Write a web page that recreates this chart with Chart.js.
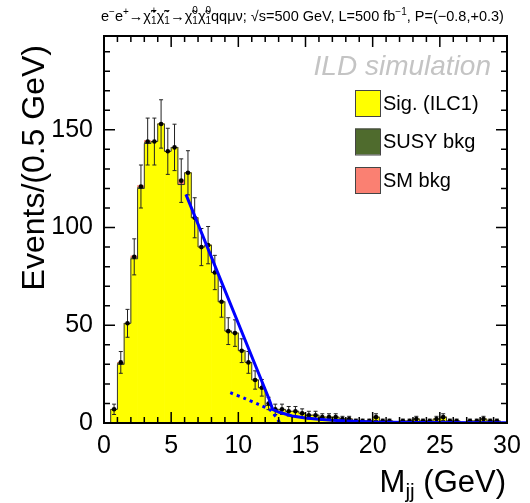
<!DOCTYPE html>
<html>
<head>
<meta charset="utf-8">
<script src="https://cdn.jsdelivr.net/npm/chart.js@4.4.0/dist/chart.umd.min.js"></script>
<style>
    html, body { margin: 0; padding: 0; background: #fff; }
    #wrap { width: 530px; height: 503px; }
</style>
</head>
<body>
<div id="wrap"><canvas id="chart"></canvas></div>
<script>
// Bin centres of M_jj (GeV), 0.5 GeV bins
const binCenters = [
    0.25, 0.75, 1.25, 1.75, 2.25, 2.75, 3.25, 3.75, 4.25, 4.75,
    5.25, 5.75, 6.25, 6.75, 7.25, 7.75, 8.25, 8.75, 9.25, 9.75,
    10.25, 10.75, 11.25, 11.75, 12.25, 12.75, 13.25, 13.75, 14.25, 14.75,
    15.25, 15.75, 16.25, 16.75, 17.25, 17.75, 18.25, 18.75, 19.25, 19.75,
    20.25, 20.75, 21.25, 21.75, 22.25, 22.75, 23.25, 23.75, 24.25, 24.75,
    25.25, 25.75, 26.25, 26.75, 27.25, 27.75, 28.25, 28.75, 29.25, 29.75
];

// Stacked MC components (events per bin)
const sigCounts = [
    0, 7, 30, 51, 84, 120, 143, 144, 153, 139,
    141, 122, 128, 105, 90, 91, 77, 62, 47, 46,
    37, 31, 22, 18, 9, 7, 7, 6, 6, 5,
    4, 4, 3, 3, 3, 2, 2, 1, 1, 1,
    3, 1, 1, 0, 1, 1, 2, 1, 1, 2,
    3, 1, 1, 0, 1, 1, 2, 1, 1, 0
];
const susyBkg = [
    0, 0, 0.5, 0, 0.5, 0.5, 0.5, 0, 0, 0,
    0, 0, 0, 0, 0, 0, 0, 0, 0, 0,
    0, 0, 0, 0, 0, 0, 0, 0, 0, 0,
    0, 0, 0, 0, 0, 0, 0, 0, 0, 0,
    0, 0, 0, 0, 0, 0, 0, 0, 0, 0,
    0, 0, 0, 0, 0, 0, 0, 0, 0, 0
];
const smBkg = [
    0, 0, 0.5, 0, 1, 1, 1, 0, 0, 0,
    0, 2.5, 0, 0, 0, 0, 0, 0, 0, 0,
    0, 0, 0, 0, 0, 0, 0, 0, 0, 0,
    0, 0, 0, 0, 0, 0, 0, 0, 0, 0,
    0, 0, 0, 0, 0, 0, 0, 0, 0, 0,
    0, 0, 0, 0, 0, 0, 0, 0, 0, 0
];

// Pseudo-data points
const dataCounts = [
    0, 7, 31, 51, 85, 121, 144, 144, 153, 139,
    141, 124, 128, 105, 90, 91, 77, 62, 47, 46,
    37, 31, 22, 18, 10, 7, 7, 6, 6, 5,
    4, 4, 3, 3, 3, 2, 2, 1, 1, 1,
    3, 1, 1, 0, 1, 1, 2, 1, 1, 2,
    3, 1, 1, 0, 1, 1, 2, 1, 1, 0
];

// Edge fit (solid) and background component (dotted)
const fitX = [6.1, 12.3, 12.55, 13, 14, 15, 16, 17, 18, 20, 23, 30];
const fitY = [117, 12, 7, 5.6, 3.6, 2.6, 1.9, 1.4, 1.0, 0.5, 0.25, 0.1];
const bkgFitX = [9.4, 10.5, 11.5, 12.4, 12.8, 13.1];
const bkgFitY = [15.5, 12.5, 9.5, 6.5, 3, 0];

const xTicks = [0, 5, 10, 15, 20, 25, 30];
const yTicks = [0, 50, 100, 150];

const legendItems = [
    { label: 'Sig. (ILC1)', color: '#ffff00' },
    { label: 'SUSY bkg', color: '#4f6b2d' },
    { label: 'SM bkg', color: '#fa8072' }
];

const FONT = '"Liberation Sans", Arial, Helvetica, sans-serif';

/**
 * Histogram outline and data points with errors, drawn before the fit lines
 */
const histPlugin = {
    id: 'histOverlay',
    beforeDatasetDraw(chart, args) {
        if (chart.data.datasets[args.index].label !== 'bkgfit') return;
        const ctx = chart.ctx;
        const xs = chart.scales.x, ys = chart.scales.y;
        const sigMeta = chart.getDatasetMeta(2);
        ctx.save();

        // step outline along top of the stack
        ctx.strokeStyle = '#333';
        ctx.lineWidth = 1;
        ctx.beginPath();
        ctx.moveTo(xs.getPixelForValue(0), ys.getPixelForValue(0));
        sigMeta.data.forEach((bar, i) => {
            const l = xs.getPixelForValue(binCenters[i] - 0.25);
            const r = xs.getPixelForValue(binCenters[i] + 0.25);
            ctx.lineTo(l, bar.y);
            ctx.lineTo(r, bar.y);
        });
        ctx.lineTo(xs.getPixelForValue(30), ys.getPixelForValue(0));
        ctx.stroke();

        // error bars and markers
        dataCounts.forEach((n, i) => {
            if (n <= 0) return;
            const err = Math.sqrt(n);
            const x = xs.getPixelForValue(binCenters[i]);
            const y = ys.getPixelForValue(n);
            const y1 = ys.getPixelForValue(Math.max(0, n - err));
            const y2 = ys.getPixelForValue(n + err);
            ctx.strokeStyle = '#222';
            ctx.lineWidth = 1;
            ctx.beginPath();
            ctx.moveTo(x, y1); ctx.lineTo(x, y2);
            ctx.moveTo(x - 2, y1); ctx.lineTo(x + 2, y1);
            ctx.moveTo(x - 2, y2); ctx.lineTo(x + 2, y2);
            ctx.stroke();
            ctx.fillStyle = '#000';
            ctx.beginPath();
            ctx.arc(x, y, 2.3, 0, Math.PI * 2);
            ctx.fill();
        });
        ctx.restore();
    }
};

/**
 * ROOT-style frame, inner ticks, titles, legend and labels
 */
const framePlugin = {
    id: 'rootFrame',
    afterDraw(chart) {
        const ctx = chart.ctx;
        const a = chart.chartArea;
        const xs = chart.scales.x, ys = chart.scales.y;
        ctx.save();

        // ticks
        ctx.strokeStyle = '#000';
        ctx.lineWidth = 1.5;
        ctx.beginPath();
        for (let v = 0; v <= 30; v += 1) {
            const x = xs.getPixelForValue(v);
            const len = v % 5 === 0 ? 11 : 6;
            ctx.moveTo(x, a.bottom); ctx.lineTo(x, a.bottom - len);
            ctx.moveTo(x, a.top); ctx.lineTo(x, a.top + len);
        }
        for (let v = 0; v <= 190; v += 10) {
            const y = ys.getPixelForValue(v);
            const len = v % 50 === 0 ? 11 : 6;
            ctx.moveTo(a.left, y); ctx.lineTo(a.left + len, y);
            ctx.moveTo(a.right, y); ctx.lineTo(a.right - len, y);
        }
        ctx.stroke();

        // frame
        ctx.lineWidth = 2;
        ctx.strokeRect(a.left, a.top, a.right - a.left, a.bottom - a.top);

        // ILD simulation
        ctx.fillStyle = '#c4c4c4';
        ctx.font = 'italic 28px ' + FONT;
        ctx.textAlign = 'right';
        ctx.textBaseline = 'alphabetic';
        ctx.fillText('ILD simulation', 491, 75);

        // legend
        ctx.font = '20px ' + FONT;
        ctx.textAlign = 'left';
        ctx.textBaseline = 'middle';
        legendItems.forEach((item, i) => {
            const top = 90 + i * 38.5;
            ctx.fillStyle = item.color;
            ctx.fillRect(355, top, 25, 26);
            ctx.strokeStyle = '#444';
            ctx.lineWidth = 1;
            ctx.strokeRect(355.5, top + 0.5, 25, 26);
            ctx.fillStyle = '#000';
            ctx.fillText(item.label, 383, top + 14);
        });

        // y-axis title
        ctx.save();
        ctx.translate(44, 45);
        ctx.rotate(-Math.PI / 2);
        ctx.font = '32px ' + FONT;
        ctx.textAlign = 'right';
        ctx.textBaseline = 'alphabetic';
        ctx.fillText('Events/(0.5 GeV)', 0, 0);
        ctx.restore();

        // x-axis title with subscript
        ctx.textBaseline = 'alphabetic';
        ctx.textAlign = 'left';
        const rest = ' (GeV)';
        ctx.font = '31px ' + FONT;
        const wRest = ctx.measureText(rest).width;
        const wM = ctx.measureText('M').width;
        ctx.font = '21px ' + FONT;
        const wSub = ctx.measureText('jj').width;
        let x0 = 506 - wRest - wSub - wM;
        ctx.font = '31px ' + FONT;
        ctx.fillText('M', x0, 492);
        ctx.font = '21px ' + FONT;
        ctx.fillText('jj', x0 + wM, 498);
        ctx.font = '31px ' + FONT;
        ctx.fillText(rest, x0 + wM + wSub, 492);

        // top process label
        const segs = [
            ['e'], ['\u2212', 'sup'], ['e'], ['+', 'sup'], ['\u2192'],
            ['\u03C7\u0303'], ['1', '+', 'ss'], ['\u03C7\u0303'], ['1', '\u2212', 'ss'], ['\u2192'],
            ['\u03C7\u0303'], ['1', '0', 'ss'], ['\u03C7\u0303'], ['1', '0', 'ss'],
            ['qq\u03BC\u03BD; \u221As=500 GeV, L=500 fb'], ['\u22121', 'sup'],
            [', P=(\u22120.8,+0.3)']
        ];
        const big = '14.5px ' + FONT, small = '10px ' + FONT;
        let cx = 101;
        const base = 21;
        ctx.fillStyle = '#000';
        segs.forEach(s => {
            if (s.length === 1) {
                ctx.font = big;
                ctx.fillText(s[0], cx, base);
                cx += ctx.measureText(s[0]).width;
            } else if (s[1] === 'sup') {
                ctx.font = small;
                ctx.fillText(s[0], cx, base - 6);
                cx += ctx.measureText(s[0]).width;
            } else {
                ctx.font = small;
                ctx.fillText(s[0], cx, base + 3);
                ctx.fillText(s[1], cx, base - 7);
                cx += Math.max(ctx.measureText(s[0]).width, ctx.measureText(s[1]).width);
            }
        });
        ctx.restore();
    }
};

const ctxEl = document.getElementById('chart');
new Chart(ctxEl, {
    type: 'bar',
    data: {
        datasets: [
            {
                type: 'line', label: 'fit', order: 0, stack: 'fit',
                data: fitX.map((x, i) => ({ x: x, y: fitY[i] })),
                borderColor: '#0000ff', borderWidth: 3, pointRadius: 0,
                tension: 0, fill: false
            },
            {
                type: 'line', label: 'bkgfit', order: 1, stack: 'bkgfit',
                data: bkgFitX.map((x, i) => ({ x: x, y: bkgFitY[i] })),
                borderColor: '#0000ff', borderWidth: 3, borderDash: [3, 4], pointRadius: 0,
                tension: 0.3, fill: false
            },
            {
                label: 'Sig. (ILC1)', order: 2, stack: 'mc',
                data: binCenters.map((x, i) => ({ x: x, y: sigCounts[i] })),
                backgroundColor: '#ffff00', borderWidth: 0,
                barPercentage: 1, categoryPercentage: 1
            },
            {
                label: 'SUSY bkg', order: 3, stack: 'mc',
                data: binCenters.map((x, i) => ({ x: x, y: susyBkg[i] })),
                backgroundColor: '#4f6b2d', borderWidth: 0,
                barPercentage: 1, categoryPercentage: 1
            },
            {
                label: 'SM bkg', order: 4, stack: 'mc',
                data: binCenters.map((x, i) => ({ x: x, y: smBkg[i] })),
                backgroundColor: '#fa8072', borderWidth: 0,
                barPercentage: 1, categoryPercentage: 1
            }
        ]
    },
    options: {
        responsive: true,
        maintainAspectRatio: false,
        animation: false,
        events: [],
        layout: { padding: { left: 0, right: 23, top: 36, bottom: 0 } },
        plugins: { legend: { display: false }, tooltip: { enabled: false } },
        scales: {
            x: {
                type: 'linear', min: 0, max: 30, offset: false,
                grid: { display: false, drawTicks: false, offset: false },
                border: { display: false },
                afterBuildTicks: s => { s.ticks = xTicks.map(v => ({ value: v })); },
                afterFit: s => { s.height = 80; },
                ticks: {
                    color: '#000', padding: 8, maxRotation: 0,
                    font: { family: FONT, size: 25 }
                }
            },
            y: {
                stacked: true, min: 0, max: 198,
                grid: { display: false, drawTicks: false },
                border: { display: false },
                afterBuildTicks: s => { s.ticks = yTicks.map(v => ({ value: v })); },
                afterFit: s => { s.width = 104; },
                ticks: {
                    color: '#000', padding: 11,
                    font: { family: FONT, size: 25 }
                }
            }
        }
    },
    plugins: [histPlugin, framePlugin]
});
</script>
</body>
</html>
